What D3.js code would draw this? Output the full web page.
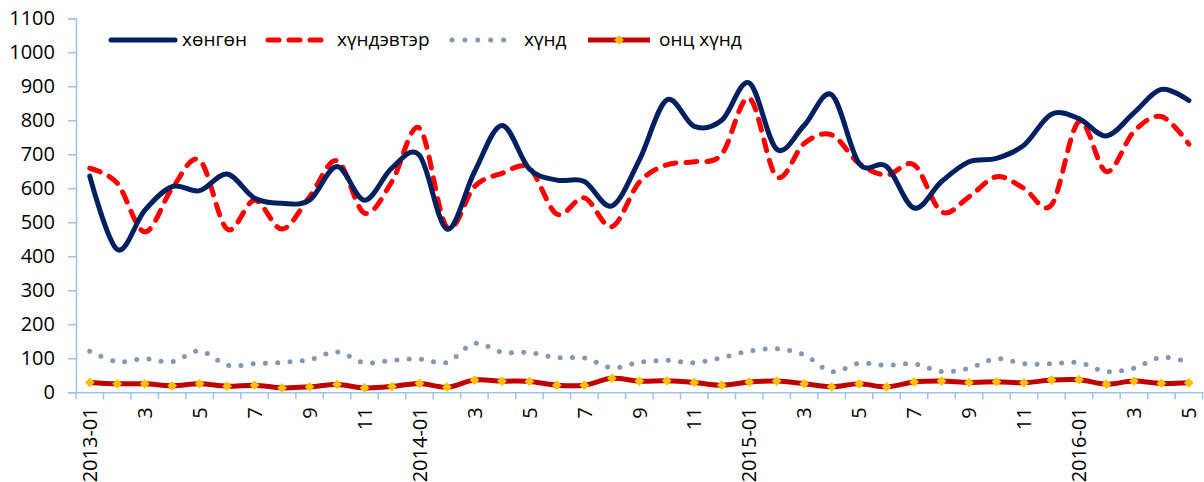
<!DOCTYPE html>
<html>
<head>
<meta charset="utf-8">
<script src="https://cdn.jsdelivr.net/npm/d3@7"></script>
<style>
  html, body { margin: 0; padding: 0; background: #fff; }
  svg { display: block; font-family: "Open Sans", "Noto Sans", sans-serif; }
</style>
</head>
<body>
<svg id="chart" width="1204" height="482"></svg>
<script>
// Monthly categories, 2013-01 .. 2016-05
const months = [
  "2013-01","2013-02","2013-03","2013-04","2013-05","2013-06","2013-07","2013-08","2013-09","2013-10","2013-11","2013-12",
  "2014-01","2014-02","2014-03","2014-04","2014-05","2014-06","2014-07","2014-08","2014-09","2014-10","2014-11","2014-12",
  "2015-01","2015-02","2015-03","2015-04","2015-05","2015-06","2015-07","2015-08","2015-09","2015-10","2015-11","2015-12",
  "2016-01","2016-02","2016-03","2016-04","2016-05"
];
// Axis labels shown under the categories (every second month)
const tickLabels = {
  "2013-01":"2013-01","2013-03":"3","2013-05":"5","2013-07":"7","2013-09":"9","2013-11":"11",
  "2014-01":"2014-01","2014-03":"3","2014-05":"5","2014-07":"7","2014-09":"9","2014-11":"11",
  "2015-01":"2015-01","2015-03":"3","2015-05":"5","2015-07":"7","2015-09":"9","2015-11":"11",
  "2016-01":"2016-01","2016-03":"3","2016-05":"5"
};
const yTicks = [0,100,200,300,400,500,600,700,800,900,1000,1100];

// Series
const light = [636,420,535,605,593,642,571,556,565,664,565,660,697,480,648,785,657,624,620,548,683,860,782,800,910,715,785,875,673,664,542,620,678,688,727,818,805,754,822,891,858];
const medium = [659,615,472,600,683,480,565,480,575,681,527,620,777,485,605,644,659,524,572,487,618,669,678,700,865,634,732,757,673,639,669,531,575,634,600,551,796,649,767,811,730];
const heavy = [121,90,99,90,122,80,84,88,96,119,87,94,98,88,144,118,117,102,101,72,88,94,87,102,121,128,110,61,85,79,84,61,71,99,84,84,87,61,71,103,88];
const extreme = [29,25,25,19,25,18,21,13,16,23,13,17,26,15,36,33,32,21,21,41,33,34,29,21,30,33,25,16,25,16,30,33,29,31,28,36,37,24,33,26,28];

const seriesNames = ["хөнгөн","хүндэвтэр","хүнд","онц хүнд"];

const svg = d3.select("#chart");
const axisColor = "#9dc3e6";
const fontSize = 20;

const x = d3.scaleBand().domain(months).range([76, 1202.6]).padding(0);
const y = d3.scaleLinear().domain([0, 1100]).range([392.3, 18.3]);
const cx = d => x(d) + x.bandwidth() / 2;

// Y axis
const yAxis = svg.append("g").attr("transform", "translate(76,0)")
  .call(d3.axisLeft(y).tickValues(yTicks).tickSize(8).tickPadding(13).tickFormat(d3.format("d")));
yAxis.select(".domain").attr("stroke", axisColor).attr("stroke-width", 1.5);
yAxis.selectAll(".tick line").attr("stroke", axisColor).attr("stroke-width", 1.5);
yAxis.selectAll(".tick text").attr("fill", "#000").style("font-size", fontSize + "px")
  .style("font-family", "'Open Sans', sans-serif");

// X axis: baseline, boundary ticks and rotated labels
const xAxis = svg.append("g").attr("transform", `translate(0,${y(0)})`)
  .call(d3.axisBottom(x).tickValues(Object.keys(tickLabels)).tickSize(0).tickPadding(0)
    .tickFormat(d => tickLabels[d]));
xAxis.select(".domain").attr("stroke", axisColor).attr("stroke-width", 1.5);
xAxis.selectAll(".tick text")
  .attr("fill", "#000").style("font-size", fontSize + "px")
  .style("font-family", "'Open Sans', sans-serif")
  .attr("text-anchor", "end")
  .attr("transform", "rotate(-90)")
  .attr("x", -15).attr("y", 0).attr("dy", "0.36em");
const bounds = months.map(m => x(m)).concat([x(months[months.length - 1]) + x.bandwidth()]);
xAxis.selectAll(".bound").data(bounds).join("line").attr("class", "bound")
  .attr("x1", d => d).attr("x2", d => d).attr("y1", 0).attr("y2", 7)
  .attr("stroke", axisColor).attr("stroke-width", 1.5);

// Lines
const line = d3.line().x((d, i) => cx(months[i])).y(d => y(d)).curve(d3.curveCardinal.tension(0));
const plot = svg.append("g");

plot.append("path").datum(heavy).attr("d", line)
  .attr("fill", "none").attr("stroke", "#8497b0").attr("stroke-width", 5)
  .attr("stroke-linecap", "round").attr("stroke-dasharray", "0,12.3");

plot.append("path").datum(extreme).attr("d", line)
  .attr("fill", "none").attr("stroke", "#c00000").attr("stroke-width", 5)
  .attr("stroke-linejoin", "round");

const diamond = d3.symbol().type(d3.symbolDiamond2).size(60);
plot.selectAll(".mk").data(extreme).join("path").attr("class", "mk")
  .attr("d", diamond)
  .attr("transform", (d, i) => `translate(${cx(months[i])},${y(d)})`)
  .attr("fill", "#ffc000");

plot.append("path").datum(medium).attr("d", line)
  .attr("fill", "none").attr("stroke", "#ff0000").attr("stroke-width", 5)
  .attr("stroke-linecap", "round").attr("stroke-dasharray", "11,10");

plot.append("path").datum(light).attr("d", line)
  .attr("fill", "none").attr("stroke", "#002060").attr("stroke-width", 5)
  .attr("stroke-linejoin", "round").attr("stroke-linecap", "round");

// Legend
const legend = svg.append("g").style("font-size", "19px");
const ly = 40;
const items = [
  {x1: 111, x2: 175, tx: 182, stroke: "#002060", dash: null},
  {x1: 268, x2: 330, tx: 337, stroke: "#ff0000", dash: "11,10"},
  {x1: 452, x2: 505, tx: 524, stroke: "#8497b0", dash: "0,12.9"},
  {x1: 588, x2: 650, tx: 659, stroke: "#c00000", dash: null}
];
items.forEach((it, k) => {
  legend.append("line").attr("x1", it.x1).attr("x2", it.x2).attr("y1", ly).attr("y2", ly)
    .attr("stroke", it.stroke).attr("stroke-width", 5)
    .attr("stroke-linecap", k === 3 ? "butt" : "round")
    .attr("stroke-dasharray", it.dash);
  legend.append("text").attr("x", it.tx).attr("y", ly).attr("dy", "0.33em")
    .attr("fill", "#000").text(seriesNames[k]);
});
legend.append("path").attr("d", diamond)
  .attr("transform", `translate(${(items[3].x1 + items[3].x2) / 2},${ly})`)
  .attr("fill", "#ffc000");
</script>
</body>
</html>
